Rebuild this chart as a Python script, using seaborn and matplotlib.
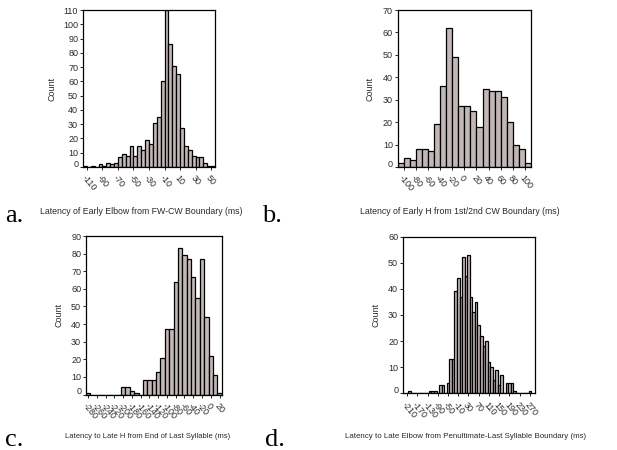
import numpy as np
import pandas as pd
import matplotlib
matplotlib.use("Agg")
import matplotlib.pyplot as plt
import matplotlib.transforms as mtransforms
import seaborn as sns

sns.set_style("white")
plt.rcParams['font.family'] = ['Liberation Sans', 'DejaVu Sans']

# ---- data (counts per bin) ----
a_edges = list(range(-115, 56, 5))
a_counts = [1, 0, 1, 0, 2, 1, 3, 2, 3, 7, 9, 8, 15, 8, 15, 12, 19, 16, 31, 35,
            60, 110, 86, 71, 65, 27, 15, 12, 8, 7, 7, 3, 1, 1]
a_ticks = [-110, -90, -70, -50, -30, -10, 10, 30, 50]

b_edges = list(range(-110, 111, 10))
b_counts = [2, 4, 3, 8, 8, 7, 19, 36, 62, 49, 27, 27, 25, 18, 35, 34, 34, 31,
            20, 10, 8, 2]
b_ticks = [-100, -80, -60, -40, -20, 0, 20, 40, 60, 80, 100]

c_edges = list(range(-285, 26, 10))
c_counts = [1, 0, 0, 0, 0, 0, 0, 0, 4, 4, 2, 1, 0, 8, 8, 8, 13, 21, 37, 37,
            64, 83, 79, 77, 67, 55, 77, 44, 22, 11, 1]
c_ticks = list(range(-280, 21, 20))

d_edges = list(range(-205, 276, 10))
d_counts = [1, 0, 0, 0, 0, 0, 0, 0, 1, 1, 1, 0, 3, 3, 0, 4, 13, 13, 39, 44,
            37, 52, 45, 53, 37, 31, 35, 26, 22, 18, 20, 12, 10, 5, 9, 3, 7, 0,
            4, 4, 4, 1, 0, 0, 0, 0, 0, 1]
d_ticks = list(range(-210, 271, 40))

panels = [
    dict(edges=a_edges, counts=a_counts, ticks=a_ticks, ymax=110,
         xlim=(-115, 55), box=(83, 10, 215, 167),
         xlabel="Latency of Early Elbow from FW-CW Boundary (ms)",
         xl_pos=(141, 211), xl_size=6.3, ylab_x=52),
    dict(edges=b_edges, counts=b_counts, ticks=b_ticks, ymax=70,
         xlim=(-110, 110), box=(397.7, 10, 531, 167),
         xlabel="Latency of Early H from 1st/2nd CW Boundary (ms)",
         xl_pos=(460, 211), xl_size=6.3, ylab_x=370),
    dict(edges=c_edges, counts=c_counts, ticks=c_ticks, ymax=90,
         xlim=(-285, 25), box=(86, 236, 221.7, 394.5),
         xlabel="Latency to Late H from End of Last Syllable (ms)",
         xl_pos=(148, 436), xl_size=5.5, ylab_x=59),
    dict(edges=d_edges, counts=d_counts, ticks=d_ticks, ymax=60,
         xlim=(-226, 290), box=(403, 236.5, 535, 393.3),
         xlabel="Latency to Late Elbow from Penultimate-Last Syllable Boundary (ms)",
         xl_pos=(466, 436), xl_size=5.7, ylab_x=376),
]

W, H = 617, 450
fig = plt.figure(figsize=(W / 100, H / 100), dpi=100)
fill = "#c2b6b6"
txt = "#2a2a2a"

for p in panels:
    x0, y0, x1, y1 = p["box"]
    ax = fig.add_axes([x0 / W, 1 - y1 / H, (x1 - x0) / W, (y1 - y0) / H])
    edges = np.asarray(p["edges"], dtype=float)
    centers = (edges[:-1] + edges[1:]) / 2
    df = pd.DataFrame({"x": centers, "w": np.asarray(p["counts"], dtype=float)})
    sns.histplot(data=df, x="x", weights="w", bins=p["edges"], ax=ax,
                 color=fill, edgecolor="black", linewidth=0.9, alpha=1)
    ax.set_xlim(*p["xlim"])
    ax.set_ylim(0, p["ymax"])
    ax.set_yticks(np.arange(0, p["ymax"] + 1, 10))
    ax.set_xticks(p["ticks"])
    ax.set_xticklabels([str(t) for t in p["ticks"]], rotation=-50,
                       ha="left", va="top", rotation_mode="anchor")
    ax.tick_params(axis="both", labelsize=6.5, colors="black", labelcolor=txt,
                   length=2, width=0.6, pad=1.5, direction="out")
    ax.tick_params(axis="x", pad=3)
    ax.yaxis.set_tick_params(left=True)
    ax.xaxis.set_tick_params(bottom=True)
    for t in ax.get_yticklabels():
        if t.get_text() == "0":
            t.set_transform(t.get_transform() +
                            mtransforms.ScaledTranslation(0, 0.035, fig.dpi_scale_trans))
    for s in ax.spines.values():
        s.set_visible(True)
        s.set_color("black")
        s.set_linewidth(0.9)
        s.set_zorder(5)
    ax.set_xlabel("")
    ax.set_ylabel("")
    fig.text(p["ylab_x"] / W, 1 - ((y0 + y1) / 2) / H, "Count", rotation=90,
             ha="center", va="center", fontsize=6.5, color=txt)
    fig.text(p["xl_pos"][0] / W, 1 - p["xl_pos"][1] / H, p["xlabel"],
             ha="center", va="center", fontsize=p["xl_size"], color=txt)

for lab, (lx, ly) in zip(["a.", "b.", "c.", "d."],
                         [(5, 222.5), (262, 222.5), (5, 446.5), (265, 446.5)]):
    fig.text(lx / W, 1 - ly / H, lab, fontsize=19, family="Liberation Serif",
             ha="left", va="baseline", color="black")

fig.savefig("out.png", dpi=100, facecolor="white")
